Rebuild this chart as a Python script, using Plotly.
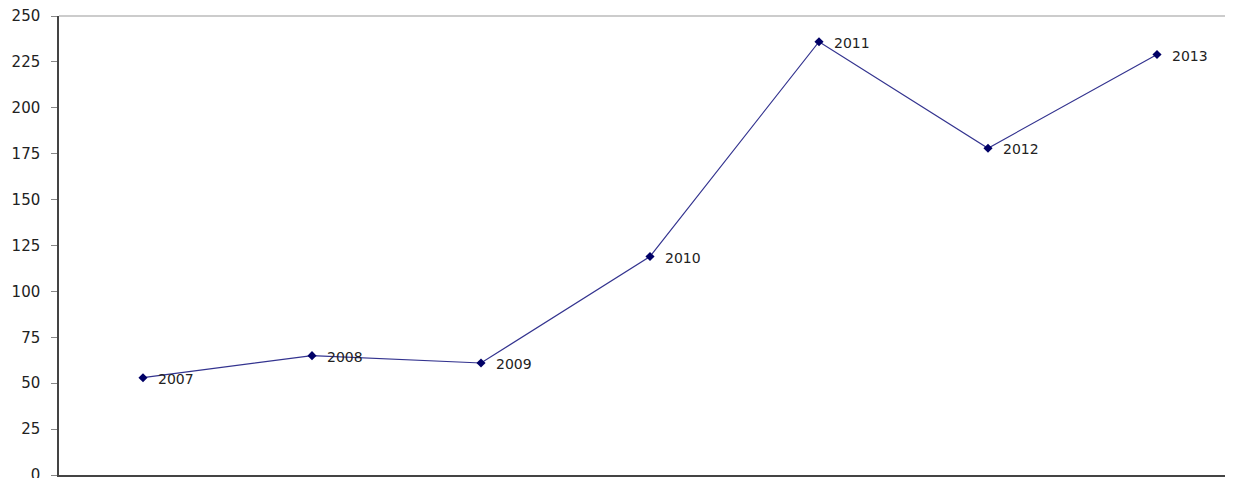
import plotly.graph_objects as go

years = ["2007", "2008", "2009", "2010", "2011", "2012", "2013"]
values = [53, 65, 61, 119, 236, 178, 229]
y_ticks = [0, 25, 50, 75, 100, 125, 150, 175, 200, 225, 250]

FONT = "DejaVu Sans, Liberation Sans, Arial"

fig = go.Figure()
fig.add_trace(go.Scatter(
    x=years, y=values, mode="lines+markers",
    line=dict(color="#33338f", width=1.2),
    marker=dict(symbol="diamond", size=7, color="#000066"),
    cliponaxis=False, showlegend=False,
))
for i, (yr, v) in enumerate(zip(years, values)):
    fig.add_annotation(x=i, y=v, text=yr, showarrow=False, xanchor="left",
                       yanchor="middle", xshift=13, yshift=-1,
                       font=dict(family=FONT, size=14, color="#222222"))
fig.update_layout(
    width=1233, height=478,
    margin=dict(l=51, r=0, t=8, b=11),
    plot_bgcolor="white", paper_bgcolor="white",
    font=dict(family=FONT, size=15, color="#222222"),
    xaxis=dict(type="category", range=[-0.497, 6.497], showticklabels=False,
               showgrid=False, zeroline=False, showline=True,
               linecolor="#444444", linewidth=1.5, ticks=""),
    yaxis=dict(range=[0, 250], tickvals=y_ticks, showgrid=False, zeroline=False,
               showline=True, linecolor="#444444", linewidth=1.5,
               ticks="outside", ticklen=6, tickcolor="#888888", ticklabelstandoff=8,
               ticklabeloverflow="allow"),
    shapes=[dict(type="line", xref="paper", yref="paper", x0=0, x1=1, y0=1, y1=1,
                 line=dict(color="#999999", width=1))],
)
fig.write_html("out.html")
